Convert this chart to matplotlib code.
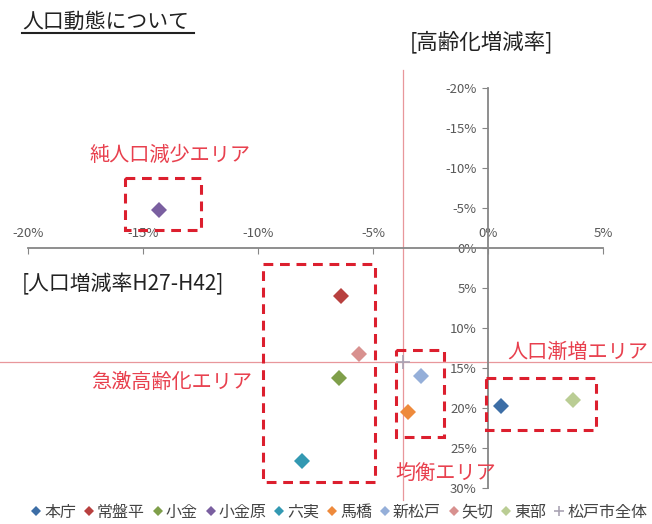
import matplotlib
matplotlib.use("Agg")
import matplotlib.pyplot as plt
from matplotlib.patches import Rectangle
from matplotlib.lines import Line2D
from matplotlib.ticker import FuncFormatter

plt.rcParams['font.family'] = ['Noto Sans CJK JP', 'DejaVu Sans']

# 地区ごとの人口増減率(x)と高齢化増減率(y)  単位:%
chiku = ['本庁', '常盤平', '小金', '小金原', '六実', '馬橋', '新松戸', '矢切', '東部']
jinko = [0.55, -6.4, -6.5, -14.3, -8.1, -3.5, -2.9, -5.6, 3.7]
koreika = [19.8, 6.0, 16.3, -4.8, 26.6, 20.5, 16.0, 13.2, 19.0]
iro = ['#3d6ea6', '#b8403f', '#7f9f4a', '#7a5fa0', '#3399b2',
       '#ee8a3c', '#95afd9', '#d8918f', '#bacd94']

# 松戸市全体
zentai_x = -3.7
zentai_y = 14.25

# エリア枠 (x0, x1, y0, y1) とラベル
areas = [(-15.8, -12.5, -8.75, -2.25),
         (-9.8, -4.9, 2.0, 29.2),
         (-4.0, -1.9, 12.75, 23.6),
         (-0.1, 4.7, 16.2, 22.75)]
area_labels = ['純人口減少エリア', '急激高齢化エリア', '均衡エリア', '人口漸増エリア']
label_pos = [(170, 155), (172, 383), (446, 473), (578, 352)]

W, H = 652, 524


def px(x, y):
    return x / W, 1 - y / H


fig = plt.figure(figsize=(W / 100, H / 100), dpi=100)
ax = fig.add_axes([28 / W, 1 - 488 / H, 575 / W, 400 / H])
ax.set_xlim(-20, 5)
ax.set_ylim(30, -20)

gray = '#868686'
ax.spines['right'].set_visible(False)
ax.spines['bottom'].set_visible(False)
ax.spines['top'].set_position(('data', 0))
ax.spines['left'].set_position(('data', 0))
for s in ('top', 'left'):
    ax.spines[s].set_color(gray)
    ax.spines[s].set_linewidth(1.3)
ax.xaxis.set_ticks_position('top')
ax.set_xticks([-20, -15, -10, -5, 0, 5])
ax.set_yticks([-20, -15, -10, -5, 0, 5, 10, 15, 20, 25, 30])
pct = FuncFormatter(lambda v, p: '%d%%' % v)
ax.xaxis.set_major_formatter(pct)
ax.yaxis.set_major_formatter(pct)
ax.tick_params(axis='x', direction='in', length=4, color=gray, labelcolor='#595959',
               labelsize=9.5, pad=6)
ax.tick_params(axis='y', direction='out', length=4, color=gray, labelcolor='#595959',
               labelsize=9.5, pad=4)

# 松戸市全体の十字線
ax.axhline(zentai_y, xmin=-0.049, xmax=1.085, color='#e8979b', lw=0.9, clip_on=False, zorder=1)
ax.axvline(zentai_x, ymin=-0.03, ymax=1.045, color='#e8979b', lw=0.9, clip_on=False, zorder=1)

for name, x, y, c in zip(chiku, jinko, koreika, iro):
    ax.plot(x, y, 'D', color=c, ms=8.5, mew=0, label=name, zorder=4, clip_on=False)
ax.plot(zentai_x, zentai_y, '+', color='#aaa4b4', ms=10, mew=1.2, label='松戸市全体', zorder=4)

red = '#dc1f2e'
for (x0, x1, y0, y1) in areas:
    ax.add_patch(Rectangle((x0, y0), x1 - x0, y1 - y0, fill=False, ec=red, lw=2.2,
                           ls=(0, (3.2, 2.2)), clip_on=False, zorder=3))
for t, (x, y) in zip(area_labels, label_pos):
    fig.text(*px(x, y), t, color='#e8404e', fontsize=14.5, ha='center', va='center')

# タイトル・軸ラベル
fig.text(*px(22, 22), '人口動態について', fontsize=15, ha='left', va='center', color='#222222')
fig.add_artist(Line2D([22 / W, 194 / W], [1 - 33 / H, 1 - 33 / H], color='#222222', lw=1.5))
fig.text(*px(410, 42), '[高齢化増減率]', fontsize=15.5, ha='left', va='center', color='#222222')
fig.text(*px(22, 284), '[人口増減率H27-H42]', fontsize=15, ha='left', va='center', color='#222222')

fig.legend(loc='center', bbox_to_anchor=px(339, 512), ncol=10, frameon=False,
           fontsize=11.5, handlelength=0.7, handletextpad=0.15, columnspacing=0.45,
           borderaxespad=0, labelcolor='#444444', markerscale=0.65)

fig.savefig('out.png', dpi=100)
